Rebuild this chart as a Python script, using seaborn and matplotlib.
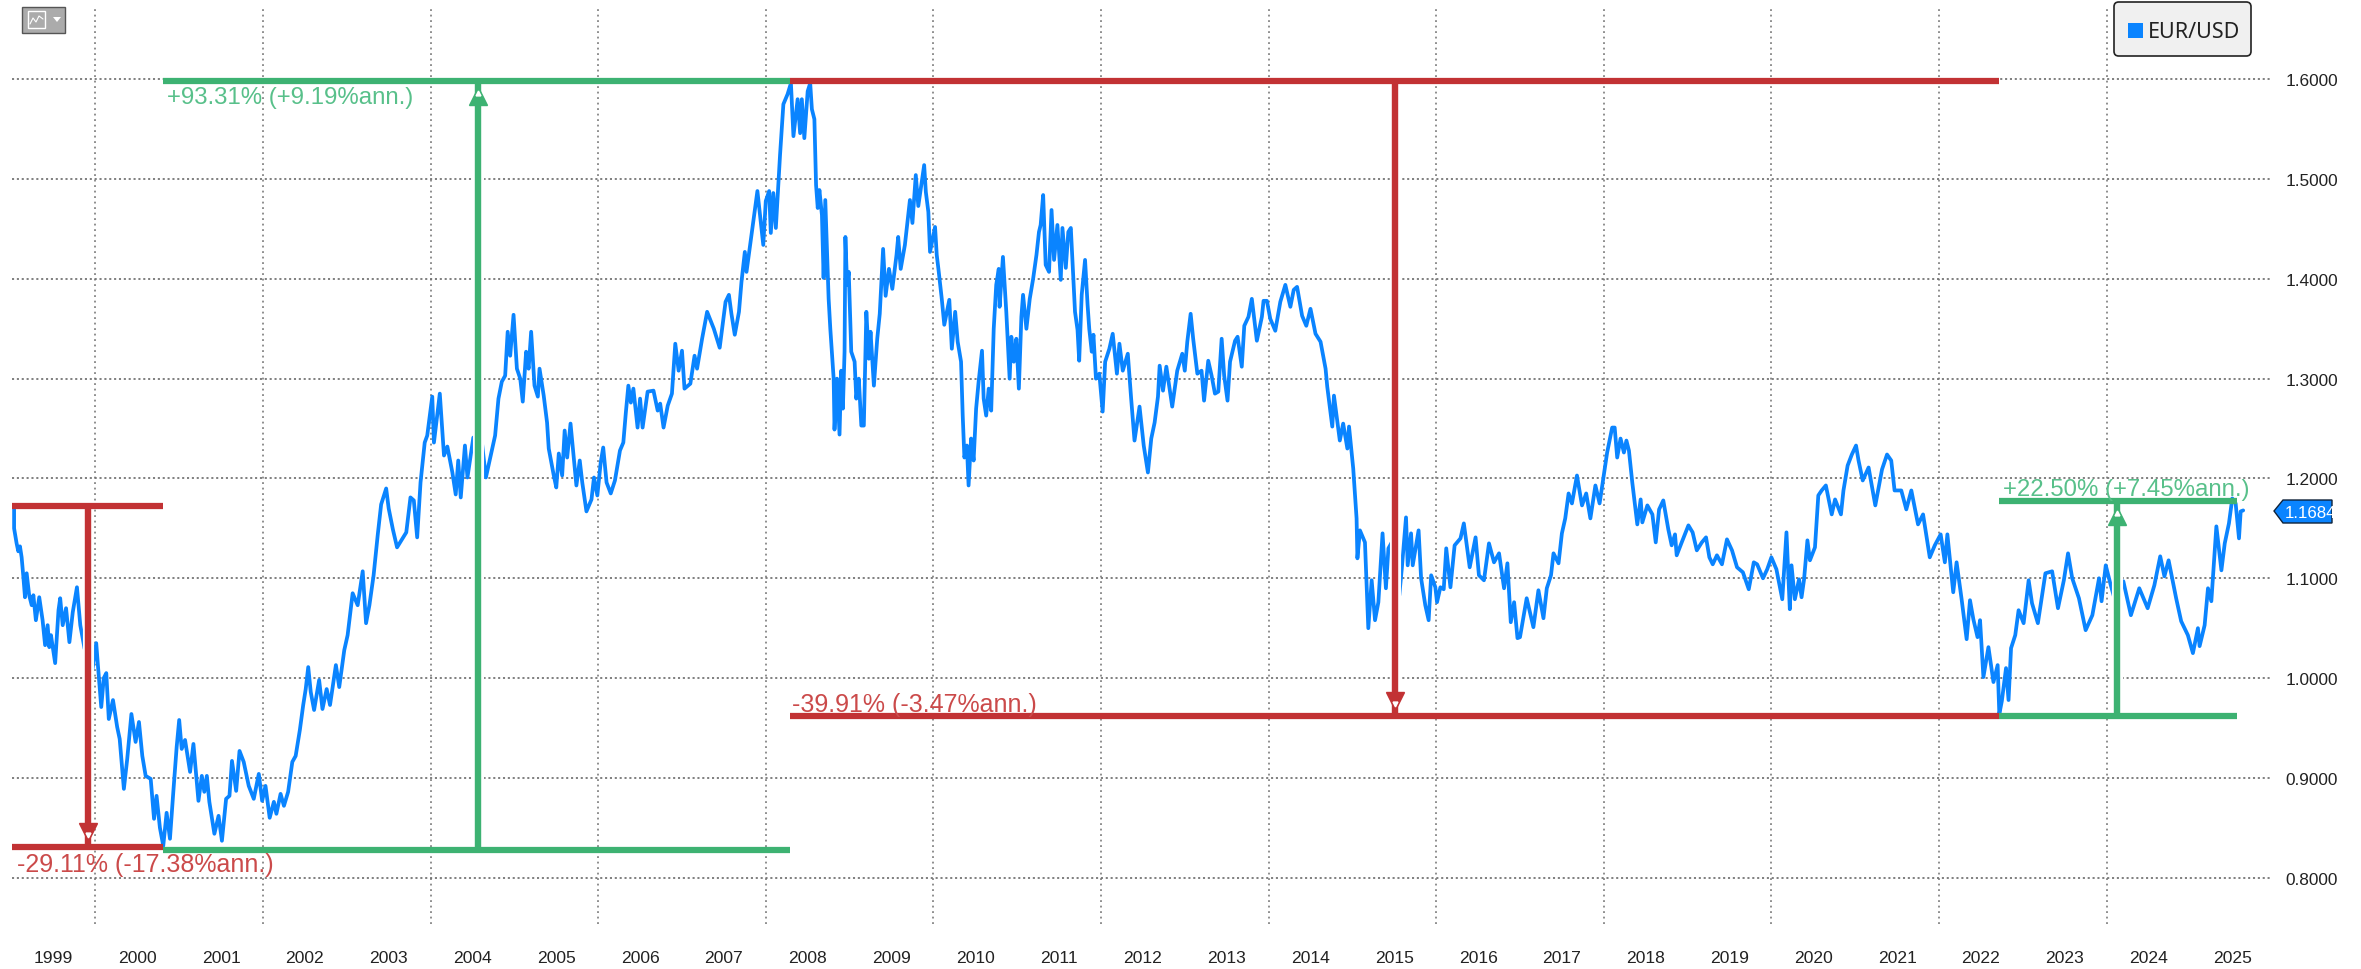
import matplotlib
matplotlib.use("Agg")
import matplotlib.pyplot as plt
import matplotlib.patheffects as pe
from matplotlib.lines import Line2D
from matplotlib.patches import FancyBboxPatch, Rectangle, Polygon
import pandas as pd
import seaborn as sns

# (decimal position on the chart's time axis, EUR/USD)
era_1999_2003 = [(1999.03,1.170),(1999.03,1.150),(1999.06,1.135),(1999.08,1.127),(1999.10,1.132),(1999.12,1.121),(1999.14,1.102),(1999.16,1.081),(1999.18,1.105),(1999.21,1.083),(1999.24,1.073),(1999.26,1.083),(1999.29,1.058),(1999.33,1.081),(1999.37,1.058),(1999.40,1.033),(1999.43,1.053),(1999.45,1.031),(1999.47,1.043),(1999.52,1.015),(1999.56,1.068),(1999.58,1.080),(1999.61,1.053),(1999.65,1.070),(1999.69,1.036),(1999.73,1.066),(1999.78,1.091),(1999.82,1.053),(1999.87,1.030),(1999.96,1.006),(2000.01,1.035),(2000.03,1.013),(2000.07,0.971),(2000.10,1.000),(2000.13,1.005),(2000.16,0.959),(2000.21,0.978),(2000.26,0.951),(2000.29,0.939),(2000.34,0.889),(2000.38,0.919),(2000.43,0.964),(2000.48,0.936),(2000.52,0.956),(2000.56,0.922),(2000.60,0.902),(2000.66,0.899),(2000.70,0.859),(2000.73,0.882),(2000.77,0.850),(2000.81,0.832),(2000.85,0.865),(2000.89,0.839),(2000.93,0.886),(2000.97,0.931),(2001.00,0.958),(2001.03,0.929),(2001.07,0.938),(2001.13,0.906),(2001.17,0.934),(2001.23,0.877),(2001.27,0.902),(2001.30,0.886),(2001.33,0.902),(2001.36,0.876),(2001.42,0.844),(2001.47,0.862),(2001.51,0.837),(2001.56,0.879),(2001.60,0.882),(2001.63,0.917),(2001.68,0.887),(2001.72,0.927),(2001.77,0.916),(2001.83,0.892),(2001.89,0.879),(2001.95,0.904),(2001.99,0.877),(2002.03,0.892),(2002.08,0.860),(2002.13,0.876),(2002.16,0.864),(2002.21,0.884),(2002.25,0.872),(2002.30,0.886),(2002.35,0.916),(2002.39,0.922),(2002.44,0.948),(2002.48,0.973),(2002.51,0.989),(2002.54,1.011),(2002.57,0.986),(2002.61,0.968),(2002.67,0.998),(2002.71,0.969),(2002.76,0.989),(2002.80,0.973),(2002.87,1.013),(2002.91,0.991),(2002.97,1.028),(2003.01,1.043),(2003.07,1.085),(2003.13,1.073),(2003.19,1.107),(2003.23,1.055),(2003.27,1.073),(2003.32,1.103),(2003.37,1.144),(2003.41,1.174),(2003.47,1.190),(2003.50,1.170)]
era_2003_2008 = [(2003.55,1.149),(2003.60,1.131),(2003.71,1.146),(2003.76,1.181),(2003.80,1.178),(2003.84,1.141),(2003.88,1.196),(2003.93,1.236),(2003.96,1.243),(2004.02,1.282),(2004.04,1.236),(2004.11,1.285),(2004.16,1.223),(2004.20,1.232),(2004.26,1.206),(2004.30,1.184),(2004.33,1.218),(2004.36,1.181),(2004.41,1.233),(2004.44,1.201),(2004.51,1.241),(2004.61,1.238),(2004.66,1.201),(2004.71,1.220),(2004.77,1.243),(2004.81,1.280),(2004.85,1.297),(2004.89,1.303),(2004.92,1.347),(2004.95,1.323),(2004.99,1.364),(2005.03,1.310),(2005.07,1.300),(2005.10,1.277),(2005.14,1.327),(2005.17,1.310),(2005.20,1.347),(2005.24,1.293),(2005.28,1.282),(2005.30,1.310),(2005.35,1.283),(2005.39,1.256),(2005.41,1.230),(2005.47,1.203),(2005.50,1.191),(2005.53,1.225),(2005.57,1.203),(2005.60,1.248),(2005.63,1.221),(2005.67,1.255),(2005.71,1.220),(2005.74,1.193),(2005.78,1.218),(2005.81,1.196),(2005.86,1.167),(2005.92,1.179),(2005.95,1.201),(2005.99,1.183),(2006.03,1.216),(2006.06,1.231),(2006.10,1.196),(2006.15,1.185),(2006.20,1.198),(2006.26,1.228),(2006.30,1.236),(2006.33,1.266),(2006.36,1.293),(2006.39,1.276),(2006.42,1.290),(2006.47,1.251),(2006.50,1.280),(2006.53,1.251),(2006.59,1.287),(2006.66,1.288),(2006.71,1.268),(2006.74,1.275),(2006.78,1.251),(2006.83,1.273),(2006.88,1.285),(2006.92,1.335),(2006.96,1.308),(2007.00,1.328),(2007.03,1.290),(2007.10,1.295),(2007.15,1.323),(2007.18,1.310),(2007.24,1.340),(2007.30,1.367),(2007.38,1.350),(2007.45,1.331),(2007.52,1.377),(2007.56,1.384),(2007.59,1.365),(2007.63,1.344),(2007.68,1.367),(2007.71,1.397),(2007.75,1.427),(2007.77,1.407),(2007.84,1.451),(2007.90,1.488),(2007.97,1.434),(2008.00,1.478),(2008.04,1.488),(2008.06,1.446),(2008.09,1.486),(2008.12,1.451),(2008.15,1.494),(2008.17,1.524),(2008.21,1.575),(2008.26,1.585),(2008.30,1.596)]
era_2008_2013 = [(2008.33,1.543),(2008.38,1.580),(2008.41,1.546),(2008.43,1.580),(2008.46,1.541),(2008.50,1.588),(2008.53,1.596),(2008.55,1.570),(2008.58,1.560),(2008.60,1.494),(2008.62,1.471),(2008.64,1.489),(2008.67,1.464),(2008.69,1.401),(2008.71,1.479),(2008.75,1.380),(2008.77,1.350),(2008.81,1.300),(2008.82,1.249),(2008.85,1.300),(2008.88,1.244),(2008.90,1.308),(2008.92,1.270),(2008.94,1.327),(2008.95,1.442),(2008.97,1.394),(2008.99,1.407),(2009.02,1.327),(2009.06,1.317),(2009.08,1.280),(2009.11,1.300),(2009.14,1.253),(2009.17,1.253),(2009.20,1.367),(2009.23,1.320),(2009.25,1.347),(2009.29,1.293),(2009.33,1.340),(2009.36,1.365),(2009.40,1.430),(2009.43,1.383),(2009.47,1.410),(2009.51,1.390),(2009.56,1.424),(2009.58,1.442),(2009.61,1.410),(2009.66,1.434),(2009.69,1.457),(2009.72,1.479),(2009.75,1.456),(2009.79,1.504),(2009.82,1.473),(2009.86,1.496),(2009.89,1.514),(2009.91,1.487),(2009.94,1.467),(2009.96,1.427),(2010.02,1.452),(2010.04,1.424),(2010.06,1.410),(2010.10,1.380),(2010.13,1.354),(2010.19,1.379),(2010.22,1.330),(2010.26,1.367),(2010.29,1.337),(2010.33,1.317),(2010.35,1.263),(2010.37,1.221),(2010.40,1.233),(2010.42,1.193),(2010.45,1.240),(2010.48,1.218),(2010.51,1.270),(2010.54,1.297),(2010.58,1.328),(2010.60,1.280),(2010.63,1.263),(2010.66,1.290),(2010.69,1.268),(2010.72,1.350),(2010.75,1.394),(2010.78,1.410),(2010.79,1.372),(2010.83,1.422),(2010.87,1.367),(2010.91,1.300),(2010.93,1.342),(2010.96,1.317),(2010.99,1.340),(2011.02,1.290),(2011.05,1.362),(2011.07,1.384),(2011.11,1.350),(2011.15,1.380),(2011.19,1.400),(2011.23,1.424),(2011.26,1.447),(2011.28,1.454),(2011.31,1.484),(2011.34,1.414),(2011.38,1.407),(2011.41,1.469),(2011.44,1.419),(2011.48,1.454),(2011.52,1.399),(2011.54,1.451),(2011.58,1.411),(2011.61,1.447),(2011.64,1.451),(2011.66,1.417),(2011.69,1.367),(2011.72,1.349),(2011.74,1.318),(2011.77,1.384),(2011.81,1.419),(2011.84,1.374),(2011.86,1.350),(2011.89,1.327),(2011.91,1.344),(2011.94,1.300),(2011.98,1.305),(2012.02,1.267),(2012.05,1.317),(2012.10,1.330),(2012.14,1.345),(2012.19,1.305),(2012.22,1.335),(2012.26,1.308),(2012.32,1.325),(2012.36,1.280),(2012.40,1.238),(2012.46,1.272),(2012.51,1.233),(2012.56,1.206),(2012.60,1.240),(2012.64,1.256),(2012.68,1.282),(2012.70,1.313),(2012.74,1.288),(2012.78,1.312),(2012.85,1.272),(2012.91,1.308),(2012.97,1.325),(2013.00,1.308),(2013.03,1.337),(2013.07,1.365),(2013.10,1.340),(2013.15,1.305)]
era_2013_2018 = [(2013.20,1.308),(2013.23,1.278),(2013.28,1.318),(2013.32,1.303),(2013.36,1.285),(2013.40,1.287),(2013.44,1.340),(2013.47,1.303),(2013.51,1.278),(2013.54,1.317),(2013.60,1.338),(2013.63,1.342),(2013.68,1.312),(2013.71,1.353),(2013.76,1.362),(2013.80,1.380),(2013.86,1.338),(2013.92,1.362),(2013.94,1.378),(2013.98,1.378),(2014.02,1.360),(2014.08,1.348),(2014.14,1.377),(2014.20,1.394),(2014.26,1.372),(2014.30,1.389),(2014.34,1.392),(2014.40,1.363),(2014.45,1.353),(2014.50,1.370),(2014.56,1.345),(2014.62,1.337),(2014.68,1.310),(2014.70,1.292),(2014.76,1.252),(2014.78,1.283),(2014.85,1.238),(2014.89,1.255),(2014.94,1.230),(2014.96,1.252),(2015.01,1.210),(2015.05,1.160),(2015.06,1.120),(2015.09,1.148),(2015.15,1.136),(2015.19,1.050),(2015.23,1.098),(2015.27,1.058),(2015.31,1.076),(2015.36,1.145),(2015.40,1.090),(2015.43,1.130),(2015.47,1.136),(2015.56,1.083),(2015.59,1.110),(2015.64,1.161),(2015.66,1.113),(2015.70,1.145),(2015.72,1.113),(2015.79,1.148),(2015.82,1.100),(2015.87,1.073),(2015.91,1.058),(2015.94,1.103),(2015.99,1.091),(2016.01,1.076),(2016.05,1.091),(2016.09,1.089),(2016.12,1.130),(2016.17,1.091),(2016.22,1.133),(2016.29,1.140),(2016.33,1.155),(2016.40,1.111),(2016.47,1.141),(2016.51,1.103),(2016.57,1.098),(2016.63,1.135),(2016.69,1.116),(2016.75,1.125),(2016.81,1.090),(2016.85,1.115),(2016.89,1.056),(2016.93,1.076),(2016.97,1.040),(2017.00,1.041),(2017.08,1.080),(2017.16,1.051),(2017.22,1.088),(2017.28,1.060),(2017.32,1.090),(2017.37,1.103),(2017.40,1.125),(2017.46,1.115),(2017.50,1.145),(2017.54,1.160),(2017.58,1.185),(2017.62,1.175),(2017.68,1.203),(2017.74,1.173),(2017.79,1.185),(2017.84,1.160),(2017.90,1.193),(2017.95,1.175)]
era_2018_2022 = [(2018.04,1.226),(2018.10,1.251),(2018.13,1.251),(2018.16,1.221),(2018.20,1.240),(2018.24,1.226),(2018.27,1.238),(2018.30,1.228),(2018.34,1.196),(2018.40,1.154),(2018.44,1.179),(2018.46,1.156),(2018.52,1.173),(2018.58,1.164),(2018.62,1.136),(2018.66,1.169),(2018.71,1.178),(2018.77,1.149),(2018.81,1.133),(2018.85,1.144),(2018.87,1.123),(2018.93,1.136),(2019.01,1.153),(2019.06,1.146),(2019.11,1.128),(2019.17,1.136),(2019.22,1.141),(2019.26,1.121),(2019.30,1.114),(2019.35,1.123),(2019.41,1.114),(2019.47,1.139),(2019.53,1.128),(2019.59,1.111),(2019.66,1.106),(2019.73,1.089),(2019.79,1.116),(2019.83,1.114),(2019.90,1.100),(2019.95,1.109),(2020.00,1.121),(2020.06,1.109),(2020.13,1.079),(2020.18,1.146),(2020.22,1.069),(2020.24,1.113),(2020.28,1.079),(2020.33,1.099),(2020.36,1.081),(2020.39,1.099),(2020.43,1.138),(2020.46,1.118),(2020.52,1.131),(2020.56,1.183),(2020.60,1.188),(2020.65,1.193),(2020.72,1.164),(2020.76,1.179),(2020.83,1.164),(2020.86,1.188),(2020.91,1.213),(2020.96,1.224),(2021.01,1.233),(2021.04,1.218),(2021.09,1.198),(2021.16,1.211),(2021.24,1.173),(2021.32,1.209),(2021.38,1.224),(2021.43,1.218),(2021.47,1.188),(2021.55,1.188),(2021.61,1.169),(2021.67,1.188),(2021.75,1.154),(2021.81,1.164),(2021.89,1.121),(2021.95,1.133),(2022.02,1.144),(2022.07,1.116),(2022.10,1.144),(2022.17,1.086),(2022.21,1.116),(2022.27,1.079),(2022.33,1.039),(2022.37,1.078),(2022.41,1.059),(2022.46,1.041),(2022.49,1.058),(2022.53,1.001),(2022.59,1.031),(2022.65,0.996),(2022.70,1.013),(2022.72,0.964)]
era_2022_2025 = [(2022.75,0.977),(2022.80,1.010),(2022.83,0.978),(2022.86,1.030),(2022.91,1.043),(2022.95,1.068),(2023.01,1.055),(2023.07,1.098),(2023.11,1.075),(2023.18,1.055),(2023.27,1.105),(2023.35,1.107),(2023.42,1.070),(2023.49,1.098),(2023.54,1.125),(2023.59,1.100),(2023.67,1.080),(2023.75,1.048),(2023.83,1.063),(2023.91,1.100),(2023.94,1.077),(2023.99,1.113),(2024.05,1.093),(2024.11,1.075),(2024.20,1.097),(2024.29,1.063),(2024.39,1.090),(2024.49,1.070),(2024.57,1.093),(2024.64,1.122),(2024.69,1.102),(2024.74,1.118),(2024.83,1.080),(2024.89,1.057),(2024.97,1.043),(2025.03,1.025),(2025.09,1.050),(2025.11,1.032),(2025.17,1.053),(2025.21,1.090),(2025.25,1.077),(2025.31,1.152),(2025.37,1.108),(2025.41,1.135),(2025.46,1.155),(2025.50,1.180),(2025.54,1.175),(2025.58,1.140),(2025.60,1.167),(2025.63,1.168)]

y_ticks = [0.8, 0.9, 1.0, 1.1, 1.2, 1.3, 1.4, 1.5, 1.6]
x_grid_years = [2000, 2002, 2004, 2006, 2008, 2010, 2012, 2014, 2016, 2018, 2020, 2022, 2024]
year_labels = list(range(1999, 2026))
last_value = 1.1684

# swing: (x0, x1, level) for horizontal bars, arrow x, arrow from/to
red_bars = [(1999.005, 2000.81, 1.172), (1999.005, 2000.81, 0.831), (2008.29, 2022.72, 1.5986), (2008.29, 2022.72, 0.9617)]
green_bars = [(2000.81, 2008.29, 0.8275), (2000.81, 2008.29, 1.5986), (2022.72, 2025.56, 0.9617), (2022.72, 2025.56, 1.177)]
red_arrows = [(1999.91, 1.172, 0.831), (2015.51, 1.5986, 0.9617)]
green_arrows = [(2004.565, 0.8275, 1.5986), (2024.13, 0.9617, 1.177)]
labels = [("+93.31% (+9.19%ann.)", 2000.854, 1.582, "g", 17.3),
          ("-29.11% (-17.38%ann.)", 1999.06, 0.8137, "r", 18),
          ("-39.91% (-3.47%ann.)", 2008.31, 0.974, "r", 18),
          ("+22.50% (+7.45%ann.)", 2022.76, 1.189, "g", 17.3)]

W, H = 2361, 970
BLUE, GREEN, RED = "#0a84ff", "#3db272", "#c23234"
TXT_G, TXT_R = "#58c08a", "#cb4a4a"

sns.set_theme(style="white")
plt.rcParams["font.family"] = ["Liberation Sans", "DejaVu Sans"]

df = pd.DataFrame(era_1999_2003 + era_2003_2008 + era_2008_2013 + era_2013_2018 + era_2018_2022 + era_2022_2025,
                  columns=["year", "EUR/USD"])

fig = plt.figure(figsize=(W / 100, H / 100), dpi=100, facecolor="white")
ax = fig.add_axes([12 / W, 1 - 925 / H, (2270 - 12) / W, (925 - 8) / H])
ax.set_xlim(1999.005, 2025.95)
ax.set_ylim(0.7536, 1.6724)

ax.set_xticks(x_grid_years)
ax.set_xticks([y + 0.5 for y in year_labels], labels=[str(y) for y in year_labels], minor=True)
ax.tick_params(axis="x", which="major", length=0, labelbottom=False)
ax.tick_params(axis="x", which="minor", length=0, pad=19, labelsize=12.6, labelcolor="#222222")
ax.yaxis.tick_right()
ax.set_yticks(y_ticks, labels=[f"{v:.4f}" for v in y_ticks])
ax.tick_params(axis="y", length=0, pad=11, labelsize=12.4, labelcolor="#222222")
ax.grid(True, axis="x", which="major", color="#707070", linestyle=(0, (1.2, 2.4)), linewidth=1.1)
ax.grid(True, axis="y", which="major", color="#707070", linestyle=(0, (1.2, 1.6)), linewidth=1.25)
ax.set_axisbelow(True)
for s in ax.spines.values():
    s.set_visible(False)

sns.lineplot(data=df, x="year", y="EUR/USD", ax=ax, color=BLUE, linewidth=2.7,
             estimator=None, sort=False, errorbar=None, legend=False, zorder=3)
ax.set_xlabel("")
ax.set_ylabel("")

for color, arrows in ((RED, red_arrows), (GREEN, green_arrows)):
    for x, y0, y1 in arrows:
        up = y1 > y0
        ax.plot([x, x], [y0, y1], color=color, lw=4.6, solid_capstyle="butt", zorder=4,
                path_effects=[pe.withStroke(linewidth=8, foreground="white")])
        ax.plot([x], [y1 + (-0.015 if up else 0.015)], marker="^" if up else "v",
                color=color, ms=13, mec=color, zorder=5)
        ax.plot([x], [y1 + (-0.012 if up else 0.012)], marker="^" if up else "v",
                color="white", ms=3.5, mec="white", zorder=5)
for color, bars in ((RED, red_bars), (GREEN, green_bars)):
    for x0, x1, y in bars:
        ax.plot([x0, x1], [y, y], color=color, lw=4.5, solid_capstyle="butt", zorder=6)
for text, x, y, kind, size in labels:
    ax.text(x, y, text, color=TXT_G if kind == "g" else TXT_R, fontsize=size, va="center", ha="left", zorder=7)

# last-value tag, legend box and toolbar button, placed in figure pixels
def px(x, y):
    return (x / W, 1 - y / H)

tr = fig.transFigure
fig.add_artist(Polygon([px(2274, 512), px(2283, 501), px(2332, 501), px(2332, 524), px(2283, 524)],
                       closed=True, transform=tr, fc=BLUE, ec="#10233a", lw=1))
fig.text(*px(2285, 513), f"{last_value:.4f}", color="white", fontsize=12.2, va="center", ha="left")

fig.add_artist(FancyBboxPatch(px(2114, 57), 137 / W, 54 / H, transform=tr, boxstyle="round,pad=0,rounding_size=0.002",
                              fc="#f0f0f0", ec="#222222", lw=1.2, mutation_aspect=W / H))
fig.add_artist(Rectangle(px(2128, 39), 15 / W, 15 / H, transform=tr, fc=BLUE, ec="none"))
fig.text(*px(2148, 33), "EUR/USD", color="#222222", fontsize=15.5, va="center", ha="left",
         family=["Noto Sans", "DejaVu Sans"])

fig.add_artist(Rectangle(px(22, 34), 43 / W, 26 / H, transform=tr, fc="#ababab", ec="#555555", lw=1))
fig.add_artist(Rectangle(px(28, 29), 17 / W, 17 / H, transform=tr, fc="none", ec="white", lw=1))
icon_x = [30, 33, 36, 39, 43]
icon_y = [25, 19, 23, 17, 20]
fig.add_artist(Line2D([a / W for a in icon_x], [1 - b / H for b in icon_y], transform=tr, color="white", lw=0.8))
fig.add_artist(Polygon([px(53, 18), px(61, 18), px(57, 23)], closed=True, transform=tr, fc="white", ec="none"))

fig.savefig("out.png", dpi=100)
